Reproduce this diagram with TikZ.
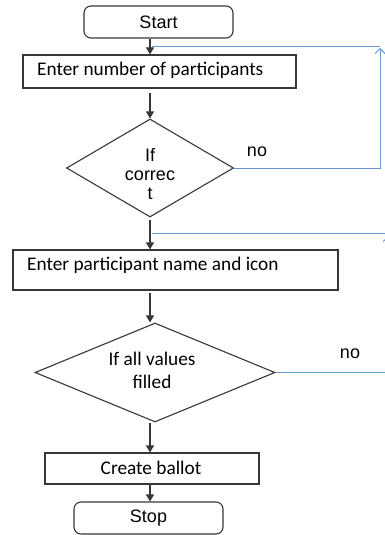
\documentclass[tikz,border=0pt]{standalone}
\usepackage{fontspec}
\setmainfont{Liberation Sans}
\newfontfamily\calfont{Carlito}
\usetikzlibrary{shapes.geometric,arrows.meta}
\definecolor{edge}{RGB}{55,55,55}
\definecolor{loopblue}{RGB}{105,150,210}
\tikzset{
  box/.style={draw=edge, line width=1.1pt, inner sep=0pt},
  termbox/.style={box, rounded corners=7pt},
  decision/.style={diamond, draw=edge, line width=1.1pt, inner sep=0pt},
  arialtext/.style={font=\fontsize{18}{19}\selectfont, inner sep=0pt},
  caltext/.style={font=\calfont\fontsize{19.3}{23}\selectfont, inner sep=0pt},
  flow/.style={draw=edge, line width=1.1pt, -{Triangle[length=7pt,width=8pt]}},
  loopline/.style={draw=loopblue, line width=1pt},
}
\begin{document}
\begin{tikzpicture}[x=1pt, y=-1pt]
  \clip (0,0) rectangle (385,535);
  \fill[white] (0,0) rectangle (385,535);
  \coordinate (ax) at (150,0);

  % terminals, process boxes and decisions
  \node[termbox, minimum width=149pt, minimum height=32pt] (start) at (158.5,22) {};
  \node[arialtext] (startT) at (158.5,22) {Start};

  \node[box, minimum width=273pt, minimum height=33pt] (enter1) at (159.5,71.5) {};
  \node[caltext, anchor=west] (enter1T) at (37,70) {Enter number of participants};

  \node[decision, minimum width=167pt, minimum height=98pt] (d1) at (150,168) {};
  \node[arialtext, align=center] (d1T) at (150,174) {If\\correc\\t};

  \node[box, minimum width=325pt, minimum height=40pt] (enter2) at (175.5,270) {};
  \node[caltext, anchor=west] (enter2T) at (27,265) {Enter participant name and icon};

  \node[decision, minimum width=240pt, minimum height=99pt] (d2) at (155,372.5) {};
  \node[caltext, align=center] (d2T) at (152,370) {If all values\\filled};

  \node[box, minimum width=214pt, minimum height=31pt] (ballot) at (152,468.5) {};
  \node[caltext] (ballotT) at (151,468) {Create ballot};

  \node[termbox, minimum width=149pt, minimum height=32pt] (stop) at (148.5,518) {};
  \node[arialtext] (stopT) at (148.5,518) {Stop};

  % labels of the "no" branches
  \node[arialtext] (no1) at (257,152) {no};
  \node[arialtext] (no2) at (350,354) {no};

  % main flow
  \draw[flow] (start.south -| ax) -- (enter1.north -| ax);
  \draw[flow] ([yshift=-4pt]enter1.south -| ax) -- (d1.north -| ax);
  \draw[flow] ([yshift=-2pt]d1.south -| ax) -- (enter2.north -| ax);
  \draw[flow] ([yshift=-2pt]enter2.south -| ax) -- (d2.north -| ax);
  \draw[flow] (d2.south -| ax) -- (ballot.north -| ax);
  \draw[flow] (ballot.south -| ax) -- (stop.north -| ax);

  % return loops
  \coordinate (loop1) at (380,48);
  \coordinate (join1) at (152,47);
  \draw[loopline, -{Straight Barb[length=5pt,width=10pt]}] (d1.east) -| (loop1);
  \draw[loopline] (380,47) -- (join1);

  \coordinate (loop2) at (388,236);
  \coordinate (join2) at (152,233);
  \draw[loopline, -{Straight Barb[length=5pt,width=10pt]}] (d2.east) -| (loop2);
  \draw[loopline] (388,233) -- (join2);
\end{tikzpicture}
\end{document}
